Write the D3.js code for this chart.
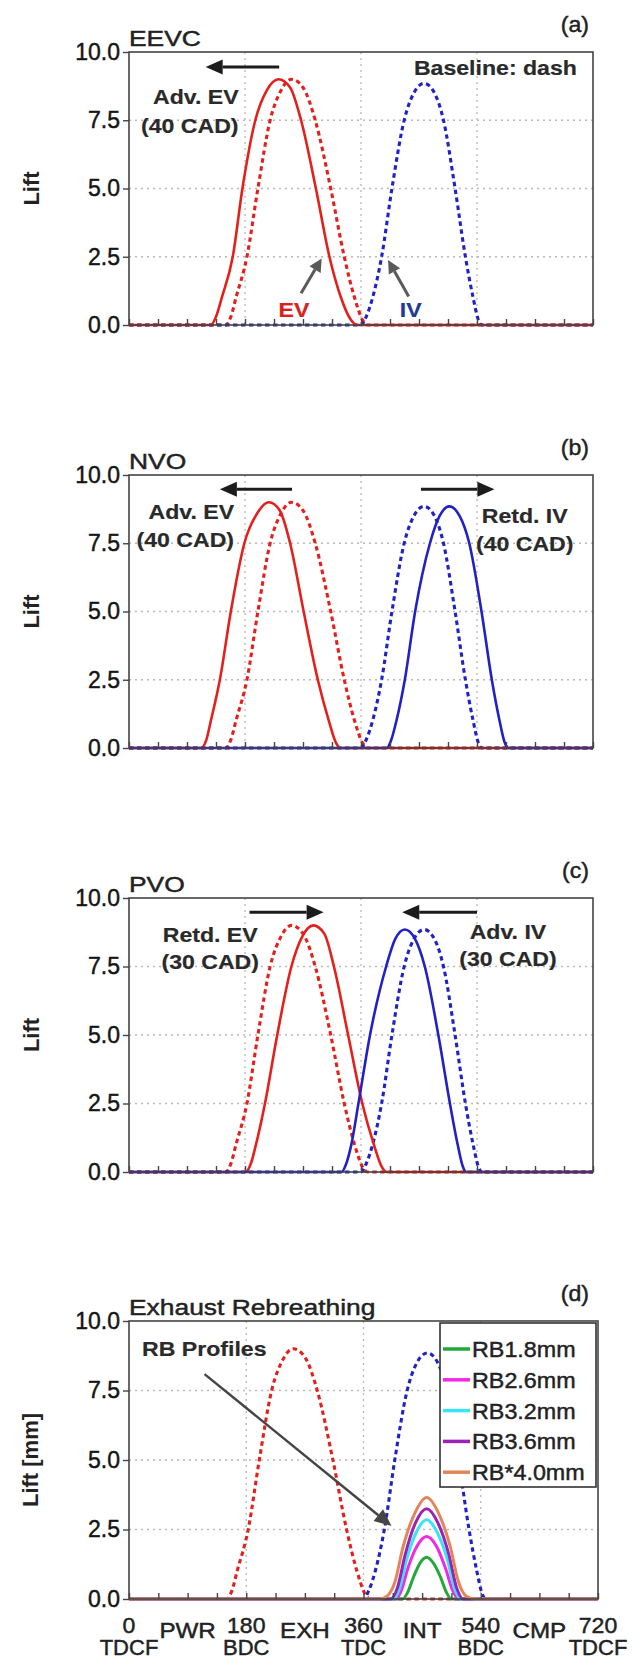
<!DOCTYPE html>
<html>
<head>
<meta charset="utf-8">
<script src="https://cdn.jsdelivr.net/npm/d3@7"></script>
<style>
  body { margin: 0; background: #fff; }
  text { font-family: "Liberation Sans", Arial, sans-serif; }
</style>
</head>
<body>
<div id="chart"></div>
<script>
// ---- data: [crank angle (deg), valve lift (mm)] ----
var evBase = [[0,0],[150,0],[158,0.3],[166,1.0],[183,2.5],[200,5.0],[219,7.5],[236,8.6],[252,9.0],[270,8.7],[289,7.5],[313,5.0],[334,2.5],[350,1.0],[362,0.2],[370,0],[720,0]];
var ivBase = [[0,0],[360,0],[368,0.3],[378,1.0],[392,2.5],[408,5.0],[427,7.5],[442,8.5],[458,8.85],[474,8.5],[488,7.5],[506,5.0],[522,2.5],[534,1.0],[542,0.2],[548,0],[720,0]];

// (a) EEVC
var evEEVC = [[0,0],[127,0],[135,0.3],[144,1.0],[161,2.5],[176,5.0],[196,7.5],[214,8.6],[232,9.0],[250,8.7],[267,7.5],[290,5.0],[311,2.5],[329,1.0],[344,0.2],[354,0],[720,0]];
// (b) NVO
var evNVO = [[0,0],[112,0],[120,0.3],[127,1.0],[141,2.5],[158,5.0],[179,7.5],[199,8.6],[217,9.0],[234,8.7],[250,7.5],[271,5.0],[293,2.5],[310,1.0],[321,0.2],[328,0],[720,0]];
var ivNVO = [[0,0],[400,0],[407,0.3],[415,1.0],[428,2.5],[444,5.0],[467,7.5],[482,8.5],[497,8.85],[513,8.5],[528,7.5],[547,5.0],[563,2.5],[575,1.0],[583,0.2],[589,0],[720,0]];
// (c) PVO
var evPVO = [[0,0],[181,0],[189,0.3],[197,1.0],[211,2.5],[230,5.0],[252,7.5],[269,8.6],[286,9.0],[303,8.7],[318,7.5],[340,5.0],[362,2.5],[380,1.0],[392,0.2],[400,0],[720,0]];
var ivPVO = [[0,0],[330,0],[337,0.3],[345,1.0],[356,2.5],[374,5.0],[399,7.5],[413,8.5],[428,8.85],[444,8.5],[459,7.5],[480,5.0],[498,2.5],[510,1.0],[518,0.2],[523,0],[720,0]];
// (d) rebreathing profiles
var rb18 = [[0,0],[420,0],[428,0.25],[437,0.8],[447,1.3],[457,1.5],[467,1.3],[478,0.8],[487,0.25],[495,0],[720,0]];
var rb26 = [[0,0],[410,0],[418,0.3],[428,1.1],[442,1.9],[457,2.25],[472,1.9],[486,1.1],[497,0.3],[506,0],[720,0]];
var rb32 = [[0,0],[406,0],[415,0.35],[426,1.4],[441,2.4],[457,2.85],[473,2.4],[489,1.4],[500,0.35],[510,0],[720,0]];
var rb36 = [[0,0],[402,0],[412,0.4],[424,1.6],[440,2.75],[457,3.25],[474,2.75],[491,1.6],[503,0.4],[513,0],[720,0]];
var rb40 = [[0,0],[384,0],[396,0.1],[408,0.6],[421,1.9],[439,3.1],[457,3.65],[475,3.1],[493,1.9],[506,0.6],[518,0.1],[532,0],[720,0]];

var rbNames = ["RB1.8mm", "RB2.6mm", "RB3.2mm", "RB3.6mm", "RB*4.0mm"];
var rbSeries = [rb18, rb26, rb32, rb36, rb40];

var panelTitles = ["EEVC", "NVO", "PVO", "Exhaust Rebreathing"];
var panelTags = ["(a)", "(b)", "(c)", "(d)"];
var yLabels = ["Lift", "Lift", "Lift", "Lift [mm]"];

var yTicks = [0, 2.5, 5, 7.5, 10];
var yGrid = [2.5, 5, 7.5];
var xGrid = [180, 360, 540];
var xMinor = d3.range(0, 721, 45);
var xTickValues = [0, 180, 360, 540, 720];
var xTickNums = ["0", "180", "360", "540", "720"];
var xTickPos = ["TDCF", "BDC", "TDC", "BDC", "TDCF"];
var strokeNames = ["PWR", "EXH", "INT", "CMP"];
var strokeAt = [90, 270, 450, 630];

// ---- styles / layout ----
var RED = "#e3201c", BLUE = "#2121c4";
var rbColors = ["#22a83a", "#f228e6", "#38e4f5", "#9a22b8", "#e0875a"];

var layout = [
  {top: 52, bottom: 325, left: 129, right: 593},
  {top: 475, bottom: 748, left: 129, right: 593},
  {top: 898, bottom: 1172, left: 129, right: 593},
  {top: 1321, bottom: 1599, left: 129, right: 598}
];

var curves = [
  [{d: evBase, c: RED, dash: true}, {d: ivBase, c: BLUE, dash: true}, {d: evEEVC, c: RED}],
  [{d: evBase, c: RED, dash: true}, {d: ivBase, c: BLUE, dash: true}, {d: evNVO, c: RED}, {d: ivNVO, c: BLUE}],
  [{d: evBase, c: RED, dash: true}, {d: ivBase, c: BLUE, dash: true}, {d: evPVO, c: RED}, {d: ivPVO, c: BLUE}],
  [{d: evBase, c: RED, dash: true}, {d: ivBase, c: BLUE, dash: true}]
];

// annotations in data units (deg, lift)
var notes = [
  {texts: [
     {x: 170, y: 8.1, s: "Adv. EV", a: "end"}, {x: 170, y: 7.05, s: "(40 CAD)", a: "end"},
     {x: 695, y: 9.15, s: "Baseline:  dash", a: "end"},
     {x: 256, y: 0.3, s: "EV", a: "middle", c: "#d8201c"}, {x: 437, y: 0.3, s: "IV", a: "middle", c: "#1f3a93"}],
   arrows: [
     {x1: 233, y1: 9.45, x2: 119, y2: 9.45, c: "#1c1c1c"},
     {x1: 267, y1: 1.16, x2: 299, y2: 2.44, c: "#5a5a5a", small: true},
     {x1: 434, y1: 1.04, x2: 402, y2: 2.38, c: "#5a5a5a", small: true}]},
  {texts: [
     {x: 163, y: 8.38, s: "Adv. EV", a: "end"}, {x: 163, y: 7.35, s: "(40 CAD)", a: "end"},
     {x: 614, y: 8.26, s: "Retd. IV", a: "middle"}, {x: 614, y: 7.23, s: "(40 CAD)", a: "middle"}],
   arrows: [
     {x1: 253, y1: 9.48, x2: 141, y2: 9.48, c: "#1c1c1c"},
     {x1: 453, y1: 9.48, x2: 567, y2: 9.48, c: "#1c1c1c"}]},
  {texts: [
     {x: 126, y: 8.38, s: "Retd. EV", a: "middle"}, {x: 126, y: 7.41, s: "(30 CAD)", a: "middle"},
     {x: 588, y: 8.5, s: "Adv. IV", a: "middle"}, {x: 588, y: 7.53, s: "(30 CAD)", a: "middle"}],
   arrows: [
     {x1: 187, y1: 9.48, x2: 302, y2: 9.48, c: "#1c1c1c"},
     {x1: 540, y1: 9.48, x2: 424, y2: 9.48, c: "#1c1c1c"}]},
  {texts: [{x: 20, y: 8.75, s: "RB Profiles", a: "start"}],
   arrows: [{x1: 116, y1: 8.09, x2: 403, y2: 2.63, c: "#454545", w: 2.5}]}
];

var svg = d3.select("#chart").append("svg")
  .attr("width", 633)
  .attr("height", 1662);
svg.append("rect").attr("width", 633).attr("height", 1662).attr("fill", "#fff");

// text with a slight horizontal stretch like the original figure
function label(g, x, y, s, o) {
  o = o || {};
  var col = o.color || "#222";
  return g.append("text")
    .attr("transform", "translate(" + x + "," + y + ") scale(" + (o.sx || 1.1) + ",1)")
    .attr("text-anchor", o.anchor || "start")
    .style("font-size", (o.size || 21) + "px")
    .style("font-weight", o.bold ? "bold" : "normal")
    .style("fill", col)
    .style("stroke", col)
    .style("stroke-width", o.bold ? 0.2 : 0.45)
    .text(s);
}

function arrow(g, x1, y1, x2, y2, color, w, hl, hw) {
  var ang = Math.atan2(y2 - y1, x2 - x1);
  var bx = x2 - hl * Math.cos(ang), by = y2 - hl * Math.sin(ang);
  g.append("line")
    .attr("x1", x1).attr("y1", y1).attr("x2", bx).attr("y2", by)
    .attr("stroke", color).attr("stroke-width", w);
  var px = -Math.sin(ang) * hw, py = Math.cos(ang) * hw;
  g.append("path")
    .attr("d", "M" + x2 + "," + y2 + "L" + (bx + px) + "," + (by + py) + "L" + (bx - px) + "," + (by - py) + "Z")
    .attr("fill", color);
}

function drawPanel(i) {
  var lay = layout[i];
  var x = d3.scaleLinear().domain([0, 720]).range([lay.left, lay.right]);
  var y = d3.scaleLinear().domain([0, 10]).range([lay.bottom, lay.top]);
  var g = svg.append("g");

  //dotted grid
  g.selectAll(".vg").data(xGrid).enter().append("line")
    .attr("x1", d => x(d)).attr("x2", d => x(d))
    .attr("y1", lay.top).attr("y2", lay.bottom)
    .attr("stroke", "#b8b8b8").attr("stroke-width", 1.3).attr("stroke-dasharray", "2,4");
  g.selectAll(".hg").data(yGrid).enter().append("line")
    .attr("x1", lay.left).attr("x2", lay.right)
    .attr("y1", d => y(d)).attr("y2", d => y(d))
    .attr("stroke", "#b8b8b8").attr("stroke-width", 1.3).attr("stroke-dasharray", "2,4");

  var line = d3.line()
    .x(d => x(d[0]))
    .y(d => y(d[1]))
    .curve(d3.curveMonotoneX);

  curves[i].forEach(function(c) {
    g.append("path")
      .attr("d", line(c.d))
      .attr("fill", "none")
      .attr("stroke", c.c)
      .attr("stroke-width", c.dash ? 3.1 : 2.6)
      .attr("stroke-dasharray", c.dash ? "4.5,3.5" : null);
  });

  if (i == 3) {
    rbSeries.forEach(function(s, k) {
      g.append("path")
        .attr("d", line(s))
        .attr("fill", "none")
        .attr("stroke", rbColors[k])
        .attr("stroke-width", 3);
    });
  }

  //frame
  g.append("rect")
    .attr("x", lay.left).attr("y", lay.top)
    .attr("width", lay.right - lay.left).attr("height", lay.bottom - lay.top)
    .attr("fill", "none").attr("stroke", "#444").attr("stroke-width", 1.6);

  //minor ticks on the bottom, pointing in
  var xa = g.append("g")
    .attr("transform", "translate(0," + lay.bottom + ")")
    .call(d3.axisBottom(x).tickValues(xMinor).tickSize(-6).tickFormat(""));
  xa.select(".domain").remove();
  xa.selectAll("line").attr("stroke", "#444").attr("stroke-width", 1.4);

  var ya = g.append("g")
    .attr("transform", "translate(" + lay.left + ",0)")
    .call(d3.axisLeft(y).tickValues(yTicks).tickSize(6).tickPadding(3).tickFormat(d3.format(".1f")));
  ya.select(".domain").remove();
  ya.selectAll("line").attr("stroke", "#444").attr("stroke-width", 1.4);
  ya.selectAll("text")
    .attr("font-family", "'Liberation Sans', Arial, sans-serif")
    .style("font-size", "23px")
    .style("fill", "#151515")
    .style("stroke", "#151515")
    .style("stroke-width", 0.45);

  //y label
  g.append("text")
    .attr("transform", "translate(" + (i == 3 ? 38 : 39) + "," + ((lay.top + lay.bottom) / 2) + ") rotate(-90)")
    .attr("text-anchor", "middle")
    .style("font-size", "22px")
    .style("font-weight", "bold")
    .style("fill", "#222")
    .text(yLabels[i]);

  //title and tag
  label(g, lay.left, lay.top - 6, panelTitles[i], {size: 22, sx: 1.2});
  label(g, 589, lay.top - 20, panelTags[i], {size: 22, anchor: "end", sx: 1.05});

  //annotations
  notes[i].arrows.forEach(function(a) {
    if (a.small) {
      arrow(g, x(a.x1), y(a.y1), x(a.x2), y(a.y2), a.c, 3, 13, 6.5);
    } else {
      arrow(g, x(a.x1), y(a.y1), x(a.x2), y(a.y2), a.c, a.w || 3, 17, 7.5);
    }
  });
  notes[i].texts.forEach(function(t) {
    label(g, x(t.x), y(t.y), t.s, {bold: true, anchor: t.a, color: t.c || "#2a2a2a"});
  });

  if (i == 3) {
    //legend
    var lg = g.append("g").attr("transform", "translate(" + (lay.right - 158) + "," + (lay.top + 2) + ")");
    lg.append("rect")
      .attr("width", 156).attr("height", 164)
      .attr("fill", "#fff").attr("stroke", "#333").attr("stroke-width", 1.6);
    rbNames.forEach(function(n, k) {
      var cy = 26 + k * 30.8;
      lg.append("line")
        .attr("x1", 3).attr("x2", 30).attr("y1", cy).attr("y2", cy)
        .attr("stroke", rbColors[k]).attr("stroke-width", 3.5);
      label(lg, 32, cy + 8, n, {size: 22, sx: 1.06});
    });

    //crank angle labels
    xTickValues.forEach(function(v, k) {
      label(g, x(v), lay.bottom + 34, xTickNums[k], {size: 22, anchor: "middle", sx: 1.05});
      label(g, x(v), lay.bottom + 56, xTickPos[k], {size: 22, anchor: "middle", sx: 1.0});
    });
    strokeAt.forEach(function(v, k) {
      label(g, x(v), lay.bottom + 39, strokeNames[k], {size: 22, anchor: "middle", sx: 1.1});
    });
  }
}

for (var p = 0; p < 4; p++) {
  drawPanel(p);
}
</script>
</body>
</html>
